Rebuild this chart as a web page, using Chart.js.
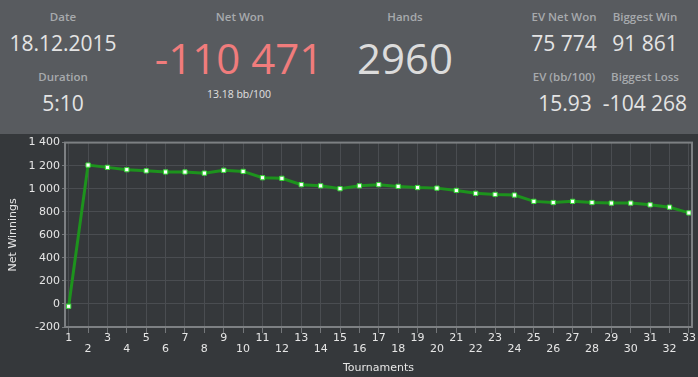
<!DOCTYPE html>
<html>
<head>
<meta charset="utf-8">
<script src="https://cdn.jsdelivr.net/npm/chart.js@4/dist/chart.umd.min.js"></script>
<style>
  html, body { margin: 0; padding: 0; }
  body { width: 698px; height: 377px; background: #35383b; position: relative; overflow: hidden; }
  #header { position: absolute; left: 0; top: 0; width: 698px; height: 134px; background: #585b5f; font-family: "Open Sans", sans-serif; }
  .t { position: absolute; transform: translate(-50%, -50%); white-space: nowrap; line-height: 1; }
  .lbl { font-size: 11.5px; font-weight: 600; color: #a7aaad; }
  .val { font-size: 21px; color: #e4e4e4; }
  .big { font-size: 42px; color: #dcdcdc; }
  .sub { font-size: 10.5px; color: #e0e0e0; }
  #wrap { position: absolute; left: 0; top: 134px; width: 698px; height: 243px; }
</style>
</head>
<body>
<div id="header">
  <div class="t lbl" style="left:63px;top:17px">Date</div>
  <div class="t val" style="left:63px;top:43px">18.12.2015</div>
  <div class="t lbl" style="left:63px;top:77px">Duration</div>
  <div class="t val" style="left:63px;top:103px">5:10</div>

  <div class="t lbl" style="left:240px;top:17px">Net Won</div>
  <div class="t big" style="left:239px;top:58px;color:#f07c7c">-110 471</div>
  <div class="t sub" style="left:239px;top:94px">13.18 bb/100</div>

  <div class="t lbl" style="left:405px;top:17px">Hands</div>
  <div class="t big" style="left:405px;top:58px">2960</div>

  <div class="t lbl" style="left:564px;top:17px">EV Net Won</div>
  <div class="t val" style="left:564px;top:43px">75 774</div>
  <div class="t lbl" style="left:645px;top:17px">Biggest Win</div>
  <div class="t val" style="left:645px;top:43px">91 861</div>
  <div class="t lbl" style="left:564px;top:77px">EV (bb/100)</div>
  <div class="t val" style="left:565px;top:103px">15.93</div>
  <div class="t lbl" style="left:645px;top:77px">Biggest Loss</div>
  <div class="t val" style="left:645px;top:103px">-104 268</div>
</div>
<div id="wrap"><canvas id="chart" width="698" height="243"></canvas></div>
<script>
// Chart data
const tournaments = [1, 2, 3, 4, 5, 6, 7, 8, 9, 10, 11, 12, 13, 14, 15, 16, 17,
  18, 19, 20, 21, 22, 23, 24, 25, 26, 27, 28, 29, 30, 31, 32, 33];
const netWinnings = [-20, 1205, 1185, 1165, 1155, 1145, 1145, 1135, 1160, 1150, 1095,
  1090, 1035, 1025, 1000, 1025, 1035, 1020, 1010, 1005, 985, 960, 950, 945, 890,
  880, 890, 880, 875, 875, 860, 840, 790];
const yTicks = [-200, 0, 200, 400, 600, 800, 1000, 1200, 1400];

const fmt = v => String(v).replace(/\B(?=(\d{3})+(?!\d))/g, " ");

// frame round the plot area
const frame = {
  id: "frame",
  afterDraw(chart) {
    const a = chart.chartArea, c = chart.ctx;
    c.save();
    c.strokeStyle = "#7d8083";
    c.lineWidth = 2;
    c.strokeRect(a.left, a.top, a.right - a.left, a.bottom - a.top);
    c.restore();
  }
};

Chart.defaults.font.family = "'DejaVu Sans', sans-serif";
Chart.defaults.color = "#e6e6e6";

new Chart(document.getElementById("chart"), {
  type: "line",
  data: {
    datasets: [{
      data: tournaments.map((t, i) => ({ x: t, y: netWinnings[i] })),
      borderColor: "#1d931d",
      borderWidth: 3,
      pointStyle: "rect",
      pointRadius: 3,
      pointBackgroundColor: "#ffffff",
      pointBorderColor: "#35d835",
      pointBorderWidth: 1,
      tension: 0
    }]
  },
  options: {
    responsive: false,
    animation: false,
    layout: { padding: { top: 7, right: 6, left: 0, bottom: 0 } },
    plugins: { legend: { display: false }, tooltip: { enabled: false } },
    scales: {
      x: {
        type: "linear",
        min: 0.81,
        max: 33.16,
        afterFit: s => { s.height = 50; },
        border: { display: false },
        grid: { color: "#4a4d51", tickColor: "#74777a", tickLength: 6 },
        ticks: {
          stepSize: 1,
          includeBounds: false,
          autoSkip: false,
          maxRotation: 0,
          padding: 0,
          font: { size: 11, lineHeight: 0.95 },
          callback: v => (v % 2 ? String(v) : ["", String(v)])
        },
        title: { display: true, text: "Tournaments", font: { size: 11 }, padding: { top: 0, bottom: 2 } }
      },
      y: {
        min: yTicks[0],
        max: yTicks[yTicks.length - 1],
        afterFit: s => { s.width = 65; },
        afterBuildTicks: s => { s.ticks = yTicks.map(v => ({ value: v })); },
        border: { display: false },
        grid: { color: "#4a4d51", tickColor: "#74777a", tickLength: 3 },
        ticks: { padding: 2, font: { size: 11 }, callback: v => fmt(v) },
        title: { display: true, text: "Net Winnings", font: { size: 11 }, padding: { top: 7, bottom: 0 } }
      }
    }
  },
  plugins: [frame]
});
</script>
</body>
</html>
